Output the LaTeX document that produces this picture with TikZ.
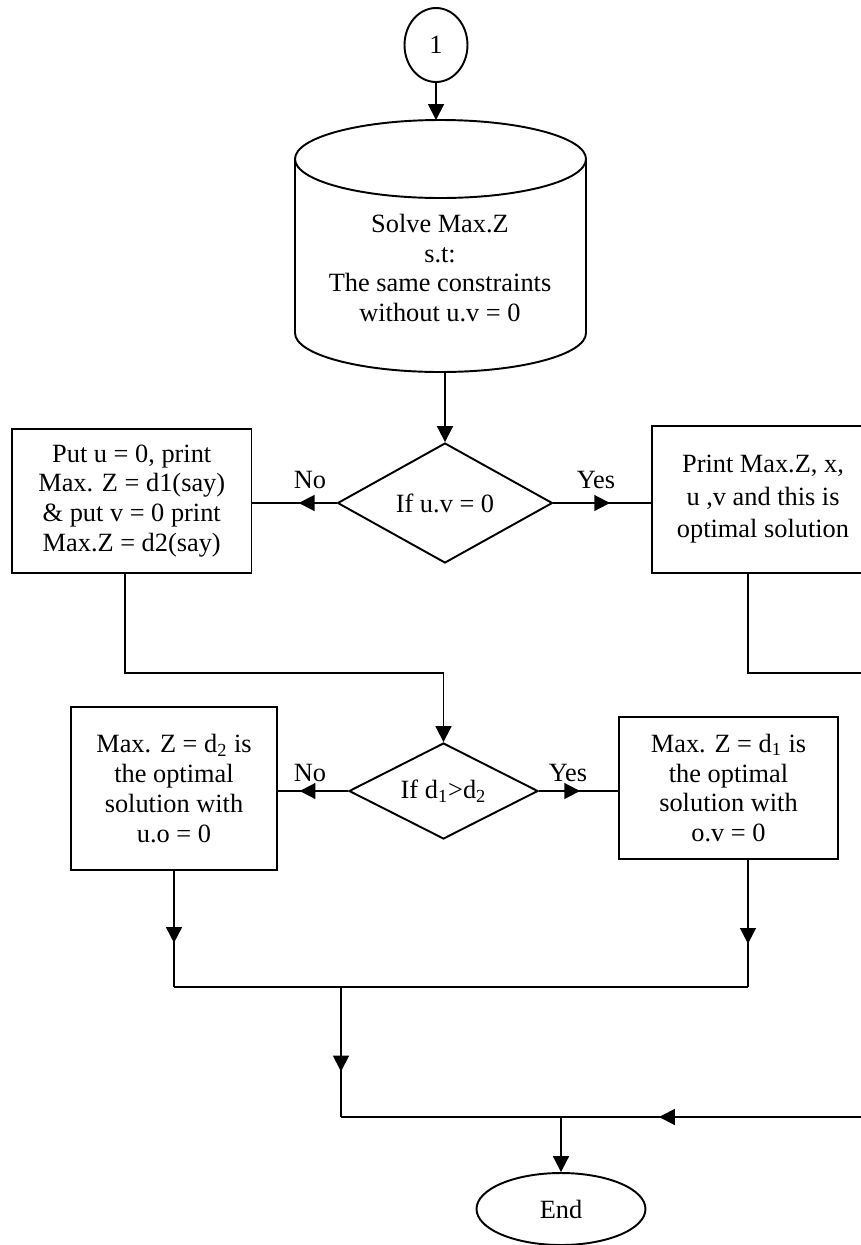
\documentclass[tikz,border=0pt]{standalone}
\usepackage{fontspec}
\setmainfont{Liberation Serif}
\usetikzlibrary{shapes.geometric,arrows.meta,decorations.markings}

\begin{document}
\begin{tikzpicture}[x=0.02cm,y=-0.02cm,line width=1.1pt,
    font=\fontsize{15}{17}\selectfont,
    box/.style={draw,rectangle,align=center,inner sep=0pt},
    dia/.style={draw,diamond,aspect=2,inner sep=0pt},
    oval/.style={draw,ellipse,inner sep=0pt},
    arr/.style={-{Triangle[length=9pt,width=9pt]}},
    midarr/.style={postaction={decorate},decoration={markings,
        mark=at position #1 with {\arrow{Triangle[length=9pt,width=9pt]}}}}]
    \useasboundingbox (0,0) rectangle (861,1245);
    \clip (0,0) rectangle (861,1245);
    \node[oval,minimum width=1.26cm,minimum height=1.48cm] (one) at (436,45) {1};
    \coordinate (cyltop) at (436,120);
    \coordinate (cylbot) at (445,372);
    \draw (440.5,159) ellipse [x radius=145.5,y radius=39];
    \draw (295,159) -- (295,333) arc [start angle=180,end angle=0,x radius=145.5,y radius=39] -- (586,159);
    \node[align=center] (solve) at (440,268) {Solve Max.Z\\s.t:\\The same constraints\\without u.v = 0};
    \node[dia,minimum width=4.3cm,minimum height=2.4cm] (d1) at (445,503) {If u.v = 0};
    \node[box,minimum width=4.79cm,minimum height=2.88cm] (put) at (131.75,501) {Put u = 0, print\\Max. Z = d1(say)\\\& put v = 0 print\\Max.Z = d2(say)};
    \node[box,minimum width=4.44cm,minimum height=2.94cm,font=\fontsize{15}{18.5}\selectfont] (prt) at (763,499.5) {Print Max.Z, x,\\u ,v and this is\\optimal solution};
    \node (no1) at (310,480) {No};
    \node (yes1) at (596,480) {Yes};
    \node[dia,minimum width=3.78cm,minimum height=1.92cm] (d2) at (443.5,791) {If d\textsubscript{1}>d\textsubscript{2}};
    \node[box,minimum width=4.12cm,minimum height=3.26cm] (dtwo) at (174,788.5) {Max. Z = d\textsubscript{2} is\\the optimal\\solution with\\u.o = 0};
    \node[box,minimum width=4.38cm,minimum height=2.84cm] (done) at (728.5,788) {Max. Z = d\textsubscript{1} is\\the optimal\\solution with\\o.v = 0};
    \node (no2) at (310,773) {No};
    \node (yes2) at (568,773) {Yes};
    \node[oval,minimum width=3.38cm,minimum height=1.44cm] (end) at (561,1209) {End};
    % connectors
    \draw[arr] (one) -- (cyltop);
    \draw[arr] (cylbot) -- (d1);
    \draw[midarr=0.45] (d1.west) -- (d1.west -| put.east);
    \draw[midarr=0.58] (d1.east) -- (d1.east -| prt.west);
    \coordinate (ja) at (443.5,673);
    \coordinate (pa) at ([xshift=-0.135cm]put.south);
    \draw[arr] (pa) |- (ja) -- (d2.north);
    \draw[midarr=0.69] (d2.west) -- (d2.west -| dtwo.east);
    \draw[midarr=0.52] (d2.east) -- (d2.east -| done.west);
    \coordinate (jm) at (341,987);
    \coordinate (jb) at (341,1117);
    \coordinate (rb) at ([xshift=0.39cm]done.south);
    \draw[midarr=0.62] (dtwo.south) -- (dtwo.south |- jm);
    \draw[midarr=0.66] (rb) -- (rb |- jm);
    \draw (dtwo.south |- jm) -- (rb |- jm);
    \draw[midarr=0.65] (jm) -- (jb);
    \coordinate (pb) at ([xshift=-0.3cm]prt.south);
    \coordinate (offa) at (880,673);
    \coordinate (offb) at (880,1117);
    \draw (pb) |- (offa) -- (offb);
    \draw[midarr=0.41] (offb) -- (jb);
    \draw[arr] (end.north |- jb) -- (end.north);
\end{tikzpicture}
\end{document}
